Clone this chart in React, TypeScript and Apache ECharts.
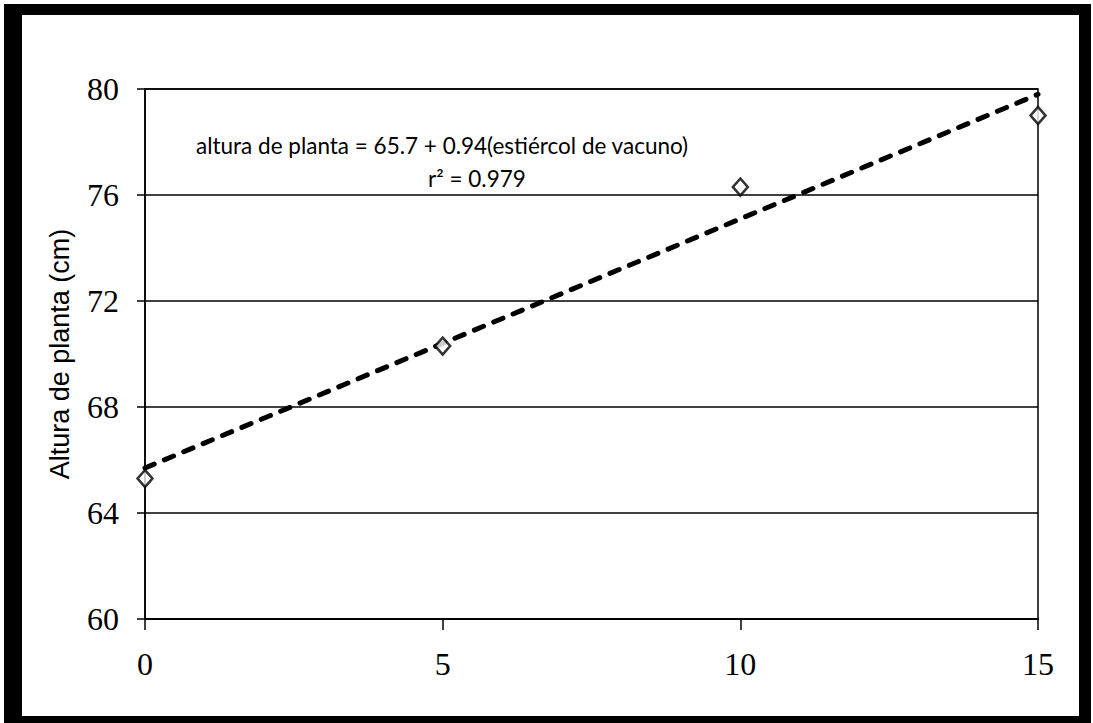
import React, { useEffect, useRef } from "react";
import * as echarts from "echarts";

const estiercol = [0, 5, 10, 15];
const altura = [65.3, 70.3, 76.3, 79.0];
const intercept = 65.7;
const slope = 0.94;
const trendX = [0, 15];
const yTicks = { min: 60, max: 80, interval: 4 };
const xTicks = { min: 0, max: 15, interval: 5 };
const eqLine1 = "altura de planta = 65.7 + 0.94(estiércol de vacuno)";
const eqLine2 = "r² = 0.979";
const yName = "Altura de planta (cm)";

export default function App() {
  const ref = useRef<HTMLDivElement>(null);
  useEffect(() => {
    if (!ref.current) return;
    const chart = echarts.init(ref.current, null, { renderer: "svg" });
    const serif = "'Liberation Serif', 'Times New Roman', serif";
    const sans = "'Liberation Sans', Arial, sans-serif";
    const eqFont = "22.5px Lato, 'Open Sans', sans-serif";
    chart.setOption({
      animation: false,
      backgroundColor: "#fff",
      grid: {
        left: 145,
        right: 55,
        top: 89,
        bottom: 104,
        show: true,
        borderColor: "#000",
        borderWidth: 1.5,
      },
      xAxis: {
        type: "value",
        min: xTicks.min,
        max: xTicks.max,
        interval: xTicks.interval,
        axisLine: { lineStyle: { color: "#000", width: 1.5 } },
        axisTick: { show: true, inside: false, length: 11, lineStyle: { color: "#000", width: 1.5 } },
        axisLabel: { color: "#000", fontFamily: serif, fontSize: 32, margin: 29 },
        splitLine: { show: false },
      },
      yAxis: {
        type: "value",
        min: yTicks.min,
        max: yTicks.max,
        interval: yTicks.interval,
        name: yName,
        nameLocation: "middle",
        nameGap: 72,
        nameTextStyle: { color: "#000", fontFamily: sans, fontSize: 27 },
        axisLine: { show: true, lineStyle: { color: "#000", width: 1.5 } },
        axisTick: { show: true, inside: false, length: 8, lineStyle: { color: "#000", width: 1.5 } },
        axisLabel: { color: "#000", fontFamily: serif, fontSize: 32, margin: 26 },
        splitLine: { show: true, lineStyle: { color: "#000", width: 1.5 } },
      },
      series: [
        {
          type: "line",
          data: trendX.map((x) => [x, intercept + slope * x]),
          showSymbol: false,
          symbol: "none",
          lineStyle: { color: "#000", width: 5, type: [10, 11], cap: "round" },
          z: 2,
        },
        {
          type: "scatter",
          data: estiercol.map((x, i) => [x, altura[i]]),
          symbol: "diamond",
          symbolSize: [15, 17],
          itemStyle: { color: "#fff", borderColor: "#000", borderWidth: 2.5 },
          z: 3,
        },
      ],
      graphic: [
        {
          type: "text",
          left: 196,
          top: 134,
          style: { text: eqLine1, fill: "#000", font: eqFont },
        },
        {
          type: "text",
          left: 428,
          top: 167,
          style: { text: eqLine2, fill: "#000", font: eqFont },
        },
        { type: "rect", shape: { x: 4, y: 4, width: 18, height: 715 }, style: { fill: "#000" } },
        { type: "rect", shape: { x: 4, y: 4, width: 1087, height: 11 }, style: { fill: "#000" } },
        { type: "rect", shape: { x: 1079, y: 4, width: 12, height: 719 }, style: { fill: "#000" } },
        { type: "rect", shape: { x: 4, y: 716, width: 1087, height: 7 }, style: { fill: "#000" } },
      ],
    });
    return () => chart.dispose();
  }, []);
  return (
    <div
      ref={ref}
      style={{ position: "fixed", left: 0, top: 0, width: 1093, height: 723, background: "#fff" }}
    />
  );
}
